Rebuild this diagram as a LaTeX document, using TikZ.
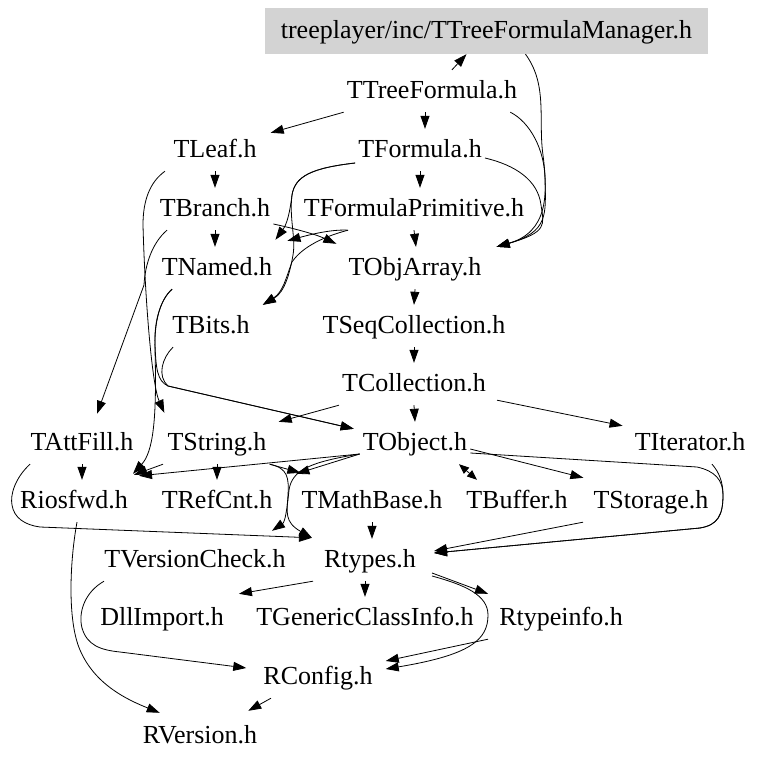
\documentclass[tikz,border=0pt]{standalone}
\usepackage{fontspec}
\setmainfont{Liberation Serif}
\usetikzlibrary{arrows.meta}

\begin{document}
\begin{tikzpicture}[x=1pt,y=-1pt,
		hdr/.style={font=\fontsize{26}{30}\selectfont, inner xsep=3pt, inner ysep=0pt, minimum height=42pt, text height=18pt, text depth=3pt},
		topfile/.style={hdr, fill=mgrgray, minimum width=443pt, minimum height=46pt},
		inc/.style={line width=0.8pt, -{Triangle[length=13pt,width=9pt]}},
		both/.style={line width=0.8pt, {Triangle[length=10pt,width=8pt]}-{Triangle[length=10pt,width=8pt]}}]
				\definecolor{mgrgray}{rgb}{0.827,0.827,0.827}
				\useasboundingbox (0,0) rectangle (764,763);
				
				\node[topfile] (mgr) at (486.5,31) {treeplayer/inc/TTreeFormulaManager.h};
				\node[hdr] (tform) at (432,91) {TTreeFormula.h};
				\node[hdr] (tleaf) at (215,150) {TLeaf.h};
				\node[hdr] (tformula) at (420,150) {TFormula.h};
				\node[hdr] (tbranch) at (215,209) {TBranch.h};
				\node[hdr] (tprim) at (414,209) {TFormulaPrimitive.h};
				\node[hdr] (tnamed) at (217,268) {TNamed.h};
				\node[hdr] (tobjarr) at (415,268) {TObjArray.h};
				\node[hdr] (tbits) at (211,326) {TBits.h};
				\node[hdr] (tseqcol) at (414,326) {TSeqCollection.h};
				\node[hdr] (tcoll) at (414,384) {TCollection.h};
				\node[hdr] (tattfill) at (82,443) {TAttFill.h};
				\node[hdr] (tstring) at (217,443) {TString.h};
				\node[hdr] (tobject) at (415,443) {TObject.h};
				\node[hdr] (titer) at (690,443) {TIterator.h};
				\node[hdr] (riosfwd) at (74,501) {Riosfwd.h};
				\node[hdr] (trefcnt) at (217,501) {TRefCnt.h};
				\node[hdr] (tmathbase) at (372,501) {TMathBase.h};
				\node[hdr] (tbuffer) at (517,501) {TBuffer.h};
				\node[hdr] (tstorage) at (651,501) {TStorage.h};
				\node[hdr] (tvercheck) at (195,560) {TVersionCheck.h};
				\node[hdr] (rtypes) at (370,560) {Rtypes.h};
				\node[hdr] (dllimport) at (162,618) {DllImport.h};
				\node[hdr] (tgenci) at (365,618) {TGenericClassInfo.h};
				\node[hdr] (rtypeinfo) at (561,618) {Rtypeinfo.h};
				\node[hdr] (rconfig) at (318,677) {RConfig.h};
				\node[hdr] (rversion) at (200,736) {RVersion.h};
				
				\draw[inc] ([xshift=20pt]tform.north) -- ([xshift=-20pt]mgr.south);
				\draw[inc] ([xshift=39pt]mgr.south) .. controls (548,85) and (538,120) .. (543,155) .. controls (548,195) and (548,232) .. ([xshift=12pt]tobjarr.north east);
				\draw[inc] ([xshift=-10pt]tform.south east) .. controls (530,122) and (545,150) .. (545,180) .. controls (546,215) and (548,232) .. ([xshift=12pt]tobjarr.north east);
				\draw[inc] (tform.south west) -- ([xshift=11pt,yshift=-4pt]tleaf.north east);
				\draw[inc] ([xshift=-7pt]tform.south) -- ([xshift=5pt]tformula.north);
				
				\draw[inc] ([yshift=-8pt]tformula.east) .. controls (515,165) and (538,180) .. (541,205) .. controls (544,225) and (548,232) .. ([xshift=12pt]tobjarr.north east);
				\draw[inc] (tformula.south) -- ([xshift=6pt]tprim.north);
				\draw[inc] ([yshift=-13pt]tformula.west) .. controls (312,168) and (295,176) .. (292,195) .. controls (290,212) and (287,224) .. ([yshift=7pt]tnamed.north east);
				\draw[inc] ([yshift=-13pt]tformula.west) .. controls (312,168) and (295,176) .. (292,195) .. controls (289,218) and (296,238) .. (293,255) .. controls (290,272) and (285,292) .. ([xshift=10pt]tbits.north east);
				\draw[inc] ([xshift=-66pt]tprim.south) .. controls (330,229) and (305,236) .. ([xshift=12pt,yshift=6pt]tnamed.north east);
				\draw[inc] ([xshift=-66pt]tprim.south) .. controls (318,238) and (300,250) .. (292,262) .. controls (286,278) and (283,292) .. ([xshift=10pt]tbits.north east);
				\draw[inc] (tprim.south) -- ([xshift=1pt]tobjarr.north);
				
				\draw[inc] (tleaf.south) -- (tbranch.north);
				\draw[inc] ([xshift=-50pt]tleaf.south) .. controls (150,182) and (143,200) .. (143,225) .. controls (145,300) and (152,385) .. ([yshift=9pt]tstring.north west);
				\draw[inc] (tbranch.south) -- ([xshift=-2pt]tnamed.north);
				\draw[inc] ([yshift=-15pt]tbranch.east) .. controls (292,228) and (315,234) .. ([xshift=-9pt,yshift=3pt]tobjarr.north west);
				\draw[inc] ([xshift=-48pt]tbranch.south) .. controls (152,243) and (145,265) .. (144,285) -- ([xshift=15pt,yshift=8pt]tattfill.north);
				
				\draw[inc] ([xshift=-45pt]tnamed.south) .. controls (160,300) and (154,322) .. (155,345) .. controls (156,368) and (157,381) .. (168,386) -- ([xshift=-6pt,yshift=-7pt]tobject.north west);
				\draw[inc] ([xshift=-38pt]tbits.south) .. controls (162,358) and (157,376) .. (168,386) -- ([xshift=-6pt,yshift=-7pt]tobject.north west);
				\draw[inc] ([xshift=-45pt]tnamed.south) .. controls (160,300) and (154,322) .. (155,350) .. controls (157,420) and (153,452) .. ([xshift=2pt,yshift=6pt]riosfwd.north east);
				
				\draw[inc] (tobjarr.south) -- (tseqcol.north);
				\draw[inc] (tseqcol.south) -- (tcoll.north);
				\draw[inc] (tcoll.south) -- (tobject.north);
				\draw[inc] (tcoll.south west) -- ([xshift=9pt]tstring.north east);
				\draw[inc] ([xshift=8pt,yshift=5pt]tcoll.south east) -- ([xshift=-9pt,yshift=-4pt]titer.north west);
				
				\draw[inc] (tattfill.south) -- (tattfill.south |- riosfwd.north);
				\draw[inc] ([xshift=-52pt]tattfill.south) .. controls (15,478) and (10,495) .. (12,505) .. controls (14,518) and (25,525) .. (40,527) -- ([xshift=-9pt,yshift=1pt]rtypes.north west);
				\draw[inc] ([xshift=-54pt]tstring.south) -- ([xshift=3pt,yshift=5pt]riosfwd.north east);
				\draw[inc] (tstring.south) -- (trefcnt.north);
				\draw[inc] (tstring.south east) -- ([xshift=2pt,yshift=7pt]tmathbase.north west);
				\draw[inc] (tstring.south east) .. controls (288,468) and (289,478) .. (288,495) .. controls (287,512) and (284,522) .. ([xshift=-9pt,yshift=1pt]rtypes.north west);
				
				\draw[inc] ([yshift=-11pt]tobject.west) -- ([xshift=8pt,yshift=4pt]riosfwd.north east);
				\draw[inc] ([yshift=-11pt]tobject.west) -- ([xshift=-2pt,yshift=6pt]tmathbase.north west);
				\draw[inc] ([yshift=-11pt]tobject.west) .. controls (310,462) and (292,470) .. (289,490) .. controls (287,510) and (285,522) .. ([xshift=77pt,yshift=8pt]tvercheck.north);
				\draw[both] ([xshift=44pt]tobject.south) -- ([xshift=-40pt]tbuffer.north);
				\draw[inc] ([yshift=-6pt]tobject.east) -- ([xshift=-7pt,yshift=2pt]tstorage.north west);
				\draw[inc] ([yshift=-10pt]tobject.east) -- (697,467) .. controls (715,471) and (723,480) .. (723,495) .. controls (723,515) and (718,525) .. (700,528) -- ([xshift=15pt,yshift=7pt]rtypes.east);
				\draw[inc] ([xshift=22pt]titer.south) .. controls (719,472) and (723,482) .. (723,495) .. controls (723,515) and (718,525) .. (700,528) -- ([xshift=15pt,yshift=7pt]rtypes.east);
				\draw[inc] ([xshift=-68pt]tstorage.south) -- ([xshift=15pt,yshift=9pt]rtypes.east);
				\draw[inc] (tmathbase.south) -- ([xshift=2pt]rtypes.north);
				
				\draw[inc] ([xshift=3pt]riosfwd.south) .. controls (70,560) and (67,620) .. (80,650) .. controls (95,685) and (128,700) .. ([xshift=20pt,yshift=2pt]rversion.north west);
				\draw[inc] ([xshift=-91pt]tvercheck.south) .. controls (85,592) and (78,612) .. (82,628) .. controls (87,645) and (100,650) .. (120,652) -- ([xshift=-14pt,yshift=9pt]rconfig.west);
				
				\draw[inc] ([xshift=-57pt]rtypes.south) -- ([xshift=12pt,yshift=3pt]dllimport.north east);
				\draw[inc] ([xshift=-5pt]rtypes.south) -- (tgenci.north);
				\draw[inc] ([xshift=13pt,yshift=-13pt]rtypes.east) -- ([xshift=-8pt,yshift=3pt]rtypeinfo.north west);
				\draw[inc] ([xshift=13pt,yshift=-16pt]rtypes.east) .. controls (465,585) and (488,595) .. (488,615) .. controls (488,640) and (470,655) .. ([xshift=10pt,yshift=8pt]rconfig.east);
				\draw[inc] ([xshift=-73pt]rtypeinfo.south) -- ([xshift=10pt,yshift=16pt]rconfig.east);
				\draw[inc] ([xshift=-47pt]rconfig.south) -- ([xshift=-12pt,yshift=4pt]rversion.north east);
			\end{tikzpicture}
\end{document}
